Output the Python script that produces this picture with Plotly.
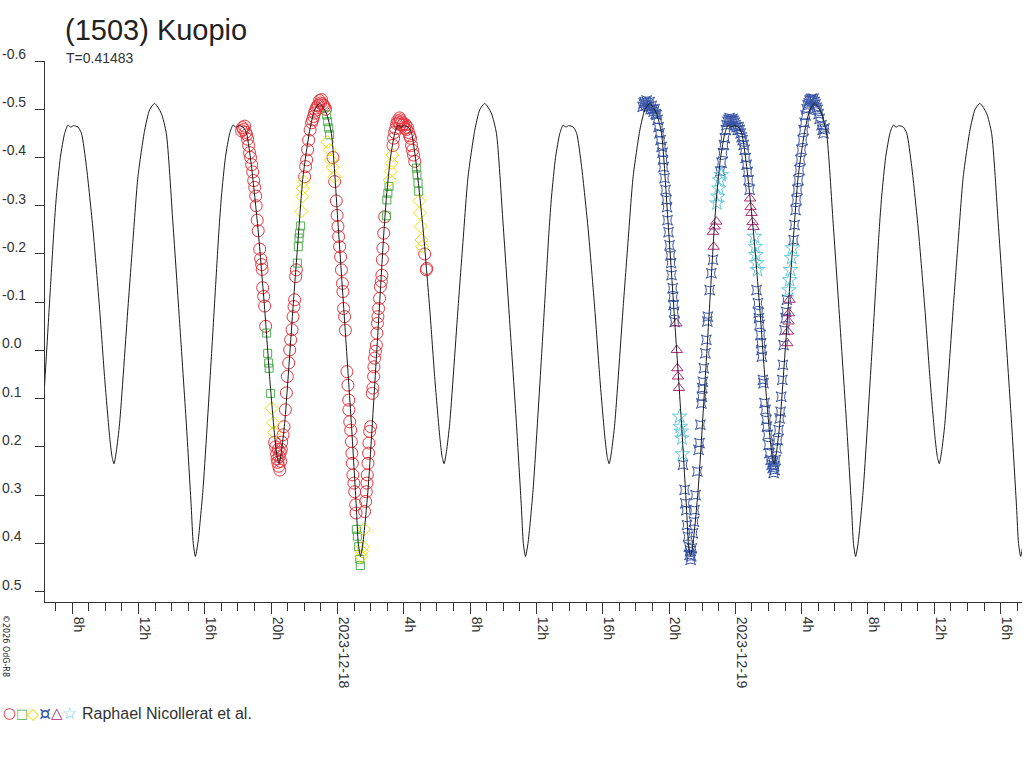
import plotly.graph_objects as go
import pandas as pd

BASE = pd.Timestamp("2023-12-17 00:00")

# model light curve, one cycle (phase from the deeper minimum)
period_days = 0.41483
epoch_hours = 15.43
model_phase = [0.000, 0.015, 0.046, 0.097, 0.121, 0.143, 0.158, 0.182, 0.208, 0.228,
               0.245, 0.262, 0.289, 0.310, 0.340, 0.380, 0.420, 0.451, 0.481, 0.495,
               0.507, 0.521, 0.541, 0.592, 0.622, 0.652, 0.693, 0.723, 0.753, 0.793,
               0.824, 0.864, 0.905, 0.945, 0.975, 0.987]
model_mag = [0.427, 0.400, 0.289, 0.013, -0.125, -0.25, -0.32, -0.40, -0.45, -0.467,
             -0.463, -0.466, -0.463, -0.450, -0.381, -0.250, -0.085, 0.06, 0.18, 0.22,
             0.235, 0.21, 0.151, -0.091, -0.229, -0.360, -0.457, -0.499, -0.512, -0.492,
             -0.450, -0.264, -0.056, 0.151, 0.324, 0.40]

# observations, hours after 2023-12-17 00:00 and relative magnitude
red_h = [18.22, 18.28, 18.34, 18.40, 18.46, 18.52, 18.58, 18.64, 18.70, 18.76,
         18.83, 18.89, 18.95, 19.01, 19.07, 19.10, 19.16, 19.22, 19.31, 19.37,
         19.43, 19.46, 19.49, 19.55, 19.61, 19.67,
         20.21, 20.27, 20.33, 20.36, 20.40, 20.43, 20.46, 20.49, 20.52, 20.55, 20.58, 20.61, 20.64,
         20.72, 20.78, 20.86, 20.92, 20.98, 21.06, 21.12, 21.18, 21.26, 21.32, 21.38, 21.42, 21.48, 21.52,
         22.02, 22.08, 22.14, 22.20, 22.26, 22.35, 22.44, 22.50, 22.56, 22.62,
         22.68, 22.74, 22.80, 22.86, 22.92, 22.98, 23.04, 23.10, 23.16, 23.22, 23.28,
         23.73, 23.83, 23.93, 23.98, 24.03, 24.07, 24.13, 24.19, 24.24, 24.30,
         24.33, 24.37, 24.43, 24.48, 24.57, 24.63, 24.68, 24.69, 24.74, 24.80,
         24.84, 24.87, 24.90, 24.93, 24.99, 25.04, 25.10, 25.12,
         25.64, 25.70, 25.74, 25.78, 25.80, 25.84, 25.88, 25.90, 25.94, 26.00,
         26.10, 26.14, 26.18, 26.20, 26.24, 26.29, 26.35, 26.38, 26.41, 26.44,
         26.48, 26.54, 26.59, 26.65, 26.68, 26.71, 26.74, 26.79, 26.85,
         27.35, 27.39, 27.45, 27.51, 27.57, 27.63, 27.69, 27.75, 27.78, 27.81,
         27.87, 27.93, 27.99, 28.05, 28.11, 28.17, 28.23, 28.29, 28.35, 28.41,
         28.47, 28.53, 28.59, 28.66,
         29.26, 29.36, 29.38]
red_mag = [-0.455, -0.462, -0.458, -0.465, -0.452, -0.447, -0.438, -0.425, -0.41, -0.40,
           -0.385, -0.37, -0.352, -0.338, -0.32, -0.30, -0.27, -0.248, -0.21, -0.19,
           -0.178, -0.168, -0.13, -0.112, -0.092, -0.05,
           0.19, 0.20, 0.215, 0.225, 0.232, 0.205, 0.24, 0.22, 0.248, 0.212, 0.23, 0.205, 0.19,
           0.175, 0.158, 0.123, 0.088, 0.054, 0.026, -0.001, -0.022, -0.043, -0.07, -0.091, -0.105, -0.153, -0.167,
           -0.36, -0.381, -0.395, -0.416, -0.436, -0.457, -0.472, -0.478, -0.485, -0.492,
           -0.498, -0.503, -0.507, -0.509, -0.518, -0.513, -0.52, -0.511, -0.508, -0.505, -0.50,
           -0.40, -0.35, -0.31, -0.28, -0.257, -0.236, -0.215, -0.194, -0.167, -0.139,
           -0.122, -0.087, -0.07, -0.042, 0.044, 0.072, 0.103, 0.123, 0.148, 0.165,
           0.189, 0.213, 0.234, 0.258, 0.275, 0.293, 0.32, 0.337,
           0.334, 0.313, 0.293, 0.275, 0.258, 0.234, 0.213, 0.192, 0.168, 0.158,
           0.089, 0.078, 0.054, 0.034, 0.016, 0.002, -0.011, -0.036, -0.056, -0.07,
           -0.087, -0.108, -0.132, -0.143, -0.156, -0.188, -0.212, -0.243, -0.277,
           -0.425, -0.44, -0.452, -0.46, -0.47, -0.476, -0.472, -0.482, -0.468, -0.478,
           -0.474, -0.467, -0.47, -0.461, -0.468, -0.458, -0.462, -0.452, -0.445, -0.44,
           -0.425, -0.415, -0.405, -0.392,
           -0.2, -0.167, -0.17]

green_h = [19.73, 19.79, 19.85, 19.88, 19.97,
           21.58, 21.64, 21.68, 21.72, 21.78,
           23.35, 23.41, 23.47, 23.53,
           25.14, 25.20, 25.28, 25.34, 25.38,
           26.95, 26.98, 27.04, 27.11,
           28.76, 28.80, 28.86, 28.90]
green_mag = [-0.036, 0.006, 0.026, 0.037, 0.089,
             -0.181, -0.215, -0.233, -0.243, -0.258,
             -0.488, -0.474, -0.461, -0.447,
             0.371, 0.385, 0.407, 0.433, 0.446,
             -0.279, -0.312, -0.326, -0.34,
             -0.378, -0.364, -0.347, -0.33]

yellow_h = [20.03, 20.12, 20.18,
            21.82, 21.88, 21.92, 21.96,
            23.41, 23.53, 23.59, 23.71, 23.83,
            25.44, 25.48, 25.54, 25.60,
            27.15, 27.21, 27.27, 27.31,
            28.93, 28.97, 29.02, 29.07, 29.11]
yellow_mag = [0.12, 0.15, 0.17,
              -0.288, -0.319, -0.336, -0.35,
              -0.432, -0.416, -0.395, -0.38, -0.36,
              0.427, 0.417, 0.407, 0.371,
              -0.353, -0.371, -0.388, -0.405,
              -0.31, -0.285, -0.257, -0.229, -0.215]

blue_h = [42.41, 42.47, 42.53, 42.59, 42.65, 42.71, 42.77, 42.83, 42.89, 42.95,
          43.01, 43.07, 43.13, 43.19, 43.25, 43.31, 43.37, 43.43, 43.49, 43.55,
          43.61, 43.64, 43.67, 43.73, 43.79, 43.85, 43.88, 43.91, 43.97, 44.03,
          44.09, 44.12, 44.15, 44.22, 44.25, 44.28, 44.31, 44.34,
          44.84, 44.94, 44.98, 45.04, 45.08, 45.14, 45.20, 45.24, 45.27, 45.30,
          45.34, 45.38, 45.44, 45.50, 45.54, 45.60, 45.71, 45.78, 45.84, 45.89,
          45.95, 45.98, 46.01, 46.04, 46.10, 46.19, 46.25, 46.31, 46.34, 46.45,
          46.55, 46.65,
          47.09, 47.17, 47.25, 47.31, 47.37, 47.43, 47.47, 47.53, 47.59, 47.65,
          47.71, 47.77, 47.83, 47.89, 47.95, 48.02, 48.08, 48.14, 48.20, 48.26,
          48.32, 48.38, 48.44, 48.50, 48.56, 48.62, 48.68, 48.74, 48.80, 48.86,
          49.28, 49.36, 49.40, 49.42, 49.46, 49.52, 49.55, 49.58, 49.60, 49.66,
          49.70, 49.76, 49.82, 49.87, 49.90, 49.95, 50.00, 50.06, 50.13, 50.19,
          50.25, 50.28, 50.31, 50.34, 50.37, 50.43, 50.49, 50.55, 50.61, 50.67,
          50.73, 50.77, 50.83, 50.87, 50.91, 50.97, 51.03, 51.07, 51.11,
          51.51, 51.57, 51.63, 51.69, 51.75, 51.81, 51.87, 51.93, 51.99, 52.06,
          52.12, 52.18, 52.24, 52.30, 52.36, 52.42, 52.48, 52.54, 52.60, 52.66,
          52.72, 52.78, 52.84, 52.90, 52.96, 53.02, 53.08, 53.20, 53.26, 53.32, 53.38]
blue_mag = [-0.505, -0.512, -0.515, -0.508, -0.518, -0.51, -0.505, -0.515, -0.50, -0.507,
            -0.50, -0.495, -0.50, -0.49, -0.488, -0.478, -0.463, -0.45, -0.436, -0.422,
            -0.41, -0.395, -0.38, -0.357, -0.333, -0.312, -0.297, -0.27, -0.245, -0.218,
            -0.197, -0.181, -0.156, -0.129, -0.111, -0.094, -0.08, -0.059,
            0.237, 0.289, 0.317, 0.331, 0.362, 0.386, 0.407, 0.424, 0.415, 0.434,
            0.427, 0.41, 0.379, 0.355, 0.331, 0.30, 0.251, 0.206, 0.192, 0.154,
            0.11, 0.096, 0.078, 0.065, 0.037, 0.006, -0.022, -0.06, -0.07, -0.125,
            -0.16, -0.188,
            -0.371, -0.389, -0.409, -0.426, -0.44, -0.457, -0.467, -0.474, -0.478, -0.482,
            -0.478, -0.476, -0.48, -0.476, -0.472, -0.467, -0.463, -0.457, -0.463, -0.457,
            -0.45, -0.442, -0.436, -0.426, -0.416, -0.399, -0.385, -0.37, -0.353, -0.333,
            -0.125, -0.098, -0.078, -0.067, -0.053, -0.032, -0.015, -0.001, 0.013, 0.061,
            0.068, 0.109, 0.123, 0.144, 0.158, 0.175, 0.196, 0.213, 0.227, 0.237,
            0.244, 0.232, 0.254, 0.24, 0.248, 0.227, 0.203, 0.186, 0.165, 0.141,
            0.127, 0.096, 0.061, 0.03, -0.011, -0.042, -0.067, -0.08, -0.105,
            -0.229, -0.26, -0.291, -0.312, -0.333, -0.353, -0.374, -0.395, -0.416, -0.436,
            -0.457, -0.472, -0.487, -0.50, -0.508, -0.512, -0.518, -0.52, -0.522, -0.518,
            -0.522, -0.515, -0.51, -0.503, -0.499, -0.49, -0.48, -0.467, -0.457, -0.45, -0.46]

magenta_h = [44.44, 44.47, 44.50, 44.54, 44.60,
             46.65, 46.69, 46.75, 46.85,
             48.89, 48.92, 48.98, 49.04, 49.10,
             51.13, 51.17, 51.21, 51.23, 51.27]
magenta_mag = [-0.056, -0.001, 0.037, 0.054, 0.078,
               -0.246, -0.215, -0.257, -0.267,
               -0.315, -0.297, -0.285, -0.266, -0.256,
               -0.015, -0.039, -0.06, -0.077, -0.105]

cyan_h = [44.64, 44.68, 44.74, 44.78, 44.81,
          46.89, 46.95, 47.01, 47.05, 47.15,
          49.16, 49.20, 49.24, 49.28, 49.34,
          51.23, 51.27, 51.33, 51.39, 51.45]
cyan_mag = [0.137, 0.158, 0.168, 0.182, 0.215,
            -0.305, -0.319, -0.336, -0.353, -0.364,
            -0.236, -0.215, -0.198, -0.181, -0.167,
            -0.125, -0.146, -0.167, -0.192, -0.212]

tick_hours = [8, 12, 16, 20, 24, 28, 32, 36, 40, 44, 48, 52, 56, 60, 64]
tick_text = ["8h", "12h", "16h", "20h", "2023-12-18", "4h", "8h", "12h", "16h", "20h",
             "2023-12-19", "4h", "8h", "12h", "16h"]
y_ticks = [-0.6, -0.5, -0.4, -0.3, -0.2, -0.1, 0.0, 0.1, 0.2, 0.3, 0.4, 0.5]
x_range_hours = [6.36, 65.29]
y_range = [0.5215, -0.6]

legend_glyphs = ["○", "□", "◇", "¤", "△", "☆"]
observer = "Raphael Nicollerat et al."


def at(hours):
    return [BASE + pd.Timedelta(hours=h) for h in hours]


period_h = period_days * 24
model_h, model_m = [], []
for n in range(-1, 6):
    for p, m in zip(model_phase, model_mag):
        model_h.append(epoch_hours + (n + p) * period_h)
        model_m.append(m)

FONT = "Liberation Sans, Arial, sans-serif"
INK = "#333333"

series = [
    (red_h, red_mag, "circle-open", "#e8343c", 12),
    (green_h, green_mag, "square-open", "#4db04a", 8),
    (yellow_h, yellow_mag, "diamond-open", "#f0e000", 10),
    (blue_h, blue_mag, "star-square-open", "#3553a5", 9),
    (magenta_h, magenta_mag, "triangle-up-open", "#b02a78", 10),
    (cyan_h, cyan_mag, "star-open", "#62cbdc", 11),
]

fig = go.Figure()
for hh, mm, sym, col, sz in series:
    fig.add_trace(go.Scatter(
        x=at(hh), y=mm, mode="markers",
        marker=dict(symbol=sym, size=sz, color=col, line=dict(width=1, color=col)),
        hoverinfo="skip"
    ))

fig.add_trace(go.Scatter(
    x=at(model_h), y=model_m, mode="lines",
    line=dict(color="#1a1a1a", width=1, shape="spline", smoothing=0.6),
    hoverinfo="skip"
))

fig.update_xaxes(
    type="date",
    range=at(x_range_hours),
    tickmode="array",
    tickvals=at(tick_hours),
    ticktext=tick_text,
    tickangle=90,
    ticklabelshift=6,
    ticks="outside", ticklen=11, tickcolor=INK, tickwidth=1,
    minor=dict(ticks="outside", ticklen=8, tickcolor=INK, tickmode="linear",
               tick0="2023-12-17", dtick=3600000, showgrid=False),
    tickfont=dict(family=FONT, size=14, color=INK),
    showline=True, linecolor=INK, linewidth=1,
    showgrid=False, zeroline=False,
)

fig.update_yaxes(
    range=y_range,
    tickmode="array", tickvals=y_ticks,
    showticklabels=False,
    ticks="outside", ticklen=9, tickcolor=INK, tickwidth=1,
    showline=True, linecolor=INK, linewidth=1,
    showgrid=False, zeroline=False,
)

annotations = []
for v in y_ticks:
    annotations.append(dict(
        x=0, xref="paper", y=v, yref="y", xanchor="left", yanchor="middle",
        xshift=-45, yshift=7, showarrow=False, text=f"{v:.1f}",
        font=dict(family=FONT, size=14, color=INK)
    ))

annotations += [
    dict(x=0, xref="paper", y=1, yref="paper", xanchor="left", yanchor="middle",
         xshift=18, yshift=31, showarrow=False, text="(1503) Kuopio",
         font=dict(family=FONT, size=29, color="#222222")),
    dict(x=0, xref="paper", y=1, yref="paper", xanchor="left", yanchor="middle",
         xshift=19, yshift=3, showarrow=False, text="T=0.41483",
         font=dict(family=FONT, size=14, color=INK)),
    dict(x=0, xref="paper", y=0, yref="paper", xanchor="center", yanchor="middle",
         xshift=-39, yshift=-44, showarrow=False, textangle=90, text="©2026 OdG-R8",
         font=dict(family="DejaVu Sans", size=8, color="#222222")),
    dict(x=0, xref="paper", y=0, yref="paper", xanchor="left", yanchor="middle",
         xshift=35, yshift=-111, showarrow=False, text=observer,
         font=dict(family=FONT, size=16, color=INK)),
]

# legend symbols, one per observing series
glyph_x = [9.5, 21.5, 33.5, 44.5, 56.5, 69.5]
glyph_size = [15, 13, 16, 19, 15, 17]
for g, gx, gs, s in zip(legend_glyphs, glyph_x, glyph_size, series):
    annotations.append(dict(
        x=0, xref="paper", y=0, yref="paper", xanchor="center", yanchor="middle",
        xshift=gx - 45, yshift=-111, showarrow=False, text=g,
        font=dict(family="DejaVu Sans", size=gs, color=s[3])
    ))

fig.update_layout(
    width=1024, height=768,
    margin=dict(l=45, r=2, t=61, b=166, pad=0),
    paper_bgcolor="white", plot_bgcolor="white",
    showlegend=False,
    annotations=annotations,
)

fig.write_html("out.html", config={"displayModeBar": False},
               post_script="document.body.style.margin='0px';")
